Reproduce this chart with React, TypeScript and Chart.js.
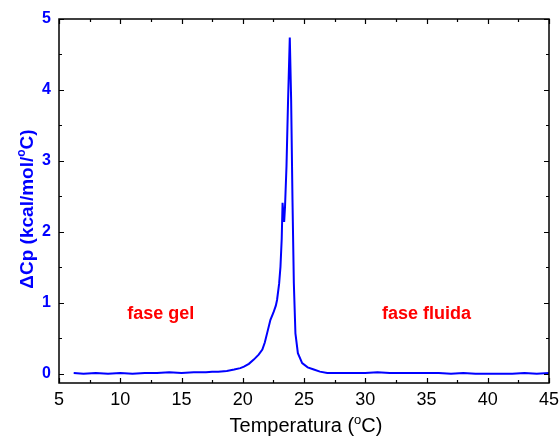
import React, { useEffect, useRef } from "react";
import { Chart, registerables } from "chart.js";

Chart.register(...registerables);

const temps = [
  6.2, 7, 8, 9, 10, 11, 12, 13, 14, 15, 16, 16.5, 17, 17.5, 18, 18.7, 19.3, 19.8,
  20.1, 20.5, 20.9, 21.3, 21.6, 21.8, 22.0, 22.26, 22.5, 22.7, 22.8, 22.97, 23.08,
  23.18, 23.25, 23.3, 23.38, 23.45, 23.57, 23.7, 23.84, 23.95, 24.06, 24.17, 24.3,
  24.5, 24.85, 25.3, 25.8, 26.3, 26.9, 28, 29, 30, 31, 32, 33, 34, 35, 36, 37, 38,
  39, 40, 41, 42, 43, 44, 45,
];
const cp = [
  0.01, 0.0, 0.01, 0.0, 0.01, 0.0, 0.01, 0.01, 0.02, 0.01, 0.02, 0.02, 0.02, 0.03,
  0.03, 0.04, 0.06, 0.08, 0.1, 0.14, 0.2, 0.27, 0.34, 0.44, 0.58, 0.76, 0.86, 0.96,
  1.04, 1.27, 1.51, 1.9, 2.41, 2.3, 2.14, 2.35, 2.92, 3.86, 4.74, 3.86, 2.45, 1.28,
  0.57, 0.29, 0.15, 0.09, 0.06, 0.03, 0.01, 0.01, 0.01, 0.01, 0.02, 0.01, 0.01,
  0.01, 0.01, 0.01, 0.0, 0.01, 0.0, 0.0, 0.0, 0.0, 0.01, 0.0, 0.01,
];
const xTickValues = [5, 10, 15, 20, 25, 30, 35, 40, 45];
const yTickValues = [0, 1, 2, 3, 4, 5];
const annotations = [
  { text: "fase gel", x: 13.3, y: 0.77 },
  { text: "fase fluida", x: 35.0, y: 0.77 },
];

const BLUE = "#0000ff";
const FONT = "'Liberation Sans', Arial, sans-serif";

const framePlugin = {
  id: "frameTicks",
  afterDatasetsDraw(chart: any) {
    const { ctx, chartArea: a, scales } = chart;
    const xs = scales.x;
    const ys = scales.y;
    ctx.save();
    ctx.strokeStyle = "#000";
    ctx.lineWidth = 1.5;
    ctx.strokeRect(a.left, a.top, a.right - a.left, a.bottom - a.top);
    ctx.lineWidth = 1.2;
    ctx.beginPath();
    for (let v = 5; v <= 45.001; v += 2.5) {
      const px = Math.round(xs.getPixelForValue(v)) + 0.5;
      const len = Math.abs(v % 5) < 1e-6 ? 5 : 3;
      ctx.moveTo(px, a.bottom);
      ctx.lineTo(px, a.bottom - len);
      ctx.moveTo(px, a.top);
      ctx.lineTo(px, a.top + len);
    }
    for (let v = 0; v <= 5.001; v += 0.5) {
      const py = Math.round(ys.getPixelForValue(v)) + 0.5;
      const len = Math.abs(v % 1) < 1e-6 ? 5 : 3;
      ctx.moveTo(a.left, py);
      ctx.lineTo(a.left + len, py);
      ctx.moveTo(a.right, py);
      ctx.lineTo(a.right - len, py);
    }
    ctx.stroke();

    // x tick labels
    ctx.fillStyle = "#000";
    ctx.font = `18px ${FONT}`;
    ctx.textAlign = "center";
    ctx.textBaseline = "alphabetic";
    for (const v of xTickValues) {
      ctx.fillText(String(v), xs.getPixelForValue(v), 405);
    }

    // annotations
    ctx.fillStyle = "#ff0000";
    ctx.font = `bold 18px ${FONT}`;
    ctx.textAlign = "center";
    ctx.textBaseline = "alphabetic";
    for (const an of annotations) {
      ctx.fillText(an.text, xs.getPixelForValue(an.x), ys.getPixelForValue(an.y));
    }

    const drawSup = (parts: { t: string; sup?: boolean }[], font: string, supFont: string, supRise: number) => {
      let total = 0;
      for (const p of parts) {
        ctx.font = p.sup ? supFont : font;
        total += ctx.measureText(p.t).width;
      }
      let cur = -total / 2;
      ctx.textAlign = "left";
      ctx.textBaseline = "alphabetic";
      for (const p of parts) {
        ctx.font = p.sup ? supFont : font;
        ctx.fillText(p.t, cur, p.sup ? -supRise : 0);
        cur += ctx.measureText(p.t).width;
      }
    };

    ctx.fillStyle = "#000";
    ctx.save();
    ctx.translate(306, 432);
    drawSup(
      [{ t: "Temperatura (" }, { t: "o", sup: true }, { t: "C)" }],
      `20px ${FONT}`,
      `13px ${FONT}`,
      8
    );
    ctx.restore();

    ctx.fillStyle = BLUE;
    ctx.save();
    ctx.translate(33, 209);
    ctx.rotate(-Math.PI / 2);
    drawSup(
      [{ t: "\u0394Cp (kcal/mol/" }, { t: "o", sup: true }, { t: "C)" }],
      `bold 19px ${FONT}`,
      `bold 12px ${FONT}`,
      8
    );
    ctx.restore();
    ctx.restore();
  },
};

export default function App() {
  const ref = useRef<HTMLCanvasElement | null>(null);
  useEffect(() => {
    document.body.style.margin = "0";
    if (!ref.current) return;
    const chart = new Chart(ref.current, {
      type: "line",
      data: {
        datasets: [
          {
            data: temps.map((t, i) => ({ x: t, y: cp[i] })),
            borderColor: BLUE,
            borderWidth: 2,
            pointRadius: 0,
            tension: 0,
            fill: false,
          },
        ],
      },
      options: {
        animation: false,
        responsive: false,
        devicePixelRatio: 1,
        layout: { padding: { top: 19, right: 11, left: 0, bottom: 0 } },
        plugins: { legend: { display: false }, tooltip: { enabled: false } },
        scales: {
          x: {
            type: "linear",
            min: 5,
            max: 45,
            afterBuildTicks: (s: any) => {
              s.ticks = xTickValues.map((v) => ({ value: v }));
            },
            afterFit: (s: any) => {
              s.height = 54;
            },
            grid: { display: false, drawTicks: false },
            border: { display: false },
            ticks: { display: false },
          },
          y: {
            type: "linear",
            min: -0.13,
            max: 5,
            afterBuildTicks: (s: any) => {
              s.ticks = yTickValues.map((v) => ({ value: v }));
            },
            afterFit: (s: any) => {
              s.width = 59;
            },
            grid: { display: false, drawTicks: false },
            border: { display: false },
            ticks: {
              color: BLUE,
              padding: 8,
              autoSkip: false,
              font: { family: FONT, size: 16, weight: "bold" },
            },
          },
        },
      },
      plugins: [framePlugin],
    } as any);
    return () => chart.destroy();
  }, []);
  return (
    <div style={{ position: "absolute", left: 0, top: 0, width: 560, height: 437 }}>
      <canvas ref={ref} width={560} height={437} />
    </div>
  );
}
